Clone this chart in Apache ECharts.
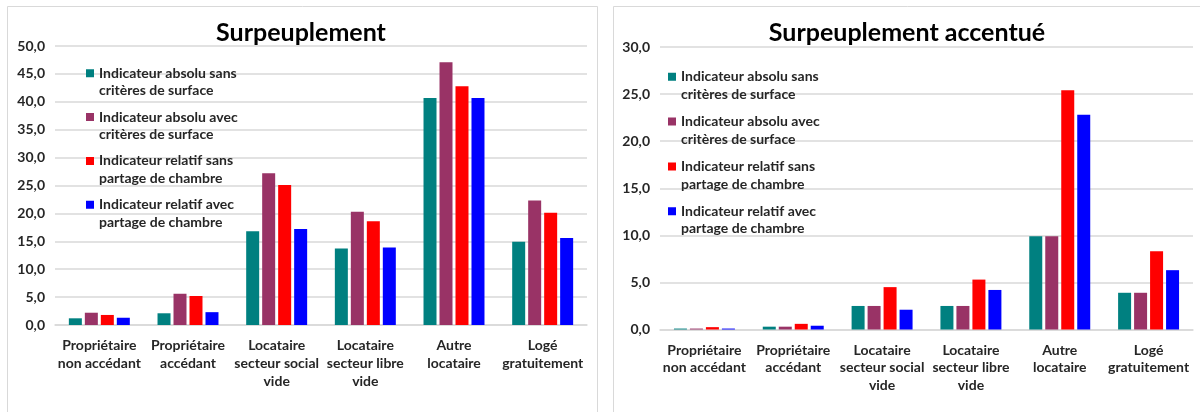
<!DOCTYPE html>
<html>
<head>
<meta charset="utf-8">
<script src="https://cdn.jsdelivr.net/npm/echarts@6/dist/echarts.min.js"></script>
<style>
  html, body { margin: 0; padding: 0; background: #fff; }
  #chart { width: 1200px; height: 412px; }
</style>
</head>
<body>
<div id="chart"></div>
<script>
// Household categories (x axis), shared by both panels
const categories = [
  'Propriétaire\nnon accédant',
  'Propriétaire\naccédant',
  'Locataire\nsecteur social\nvide',
  'Locataire\nsecteur libre\nvide',
  'Autre\nlocataire',
  'Logé\ngratuitement'
];

// Indicator names and their wrapped legend labels
const seriesNames = [
  'Indicateur absolu sans critères de surface',
  'Indicateur absolu avec critères de surface',
  'Indicateur relatif sans partage de chambre',
  'Indicateur relatif avec partage de chambre'
];
const legendLabels = [
  'Indicateur absolu sans\ncritères de surface',
  'Indicateur absolu avec\ncritères de surface',
  'Indicateur relatif sans\npartage de chambre',
  'Indicateur relatif avec\npartage de chambre'
];
const seriesColors = ['#008080', '#993366', '#ff0000', '#0000ff'];

// Surpeuplement (%)
const surpAbsoluSans = [1.2, 2.1, 16.8, 13.7, 40.7, 14.9];
const surpAbsoluAvec = [2.2, 5.6, 27.2, 20.3, 47.1, 22.3];
const surpRelatifSans = [1.8, 5.2, 25.1, 18.6, 42.8, 20.1];
const surpRelatifAvec = [1.3, 2.3, 17.2, 13.9, 40.7, 15.6];

// Surpeuplement accentué (%)
const accAbsoluSans = [0.1, 0.3, 2.5, 2.5, 9.9, 3.9];
const accAbsoluAvec = [0.1, 0.3, 2.5, 2.5, 9.9, 3.9];
const accRelatifSans = [0.25, 0.6, 4.5, 5.3, 25.4, 8.3];
const accRelatifAvec = [0.1, 0.4, 2.1, 4.2, 22.8, 6.3];

// Y axis ranges and tick step
const surpMax = 50, accMax = 30, tickStep = 5;
// Panel titles
const titles = ['Surpeuplement', 'Surpeuplement accentué'];

const FONT = 'Lato, "Open Sans", sans-serif';
const TEXT = '#262626';
const FS = 14;
const GRID_LINE = { color: '#d9d9d9', width: 1.5 };

const fmt = v => v.toFixed(1).replace('.', ',');

// Legend icon: an 8px square on the first text line of a two-line item
const LINE_H = 17.6;
const ICON = 'path://M0,' + (LINE_H / 2 - 4) + 'L8,' + (LINE_H / 2 - 4) + 'L8,' + (LINE_H / 2 + 4) +
  'L0,' + (LINE_H / 2 + 4) + 'Z M0,0L8,0 M0,' + (2 * LINE_H) + 'L8,' + (2 * LINE_H);

function makeXAxis(gridIndex) {
  return {
    type: 'category', gridIndex, data: categories,
    axisTick: { show: false },
    axisLine: { lineStyle: GRID_LINE },
    axisLabel: {
      interval: 0, margin: 12, color: TEXT, fontFamily: FONT,
      fontWeight: 'bold', fontSize: FS, lineHeight: LINE_H
    }
  };
}
function makeYAxis(gridIndex, max) {
  return {
    type: 'value', gridIndex, min: 0, max, interval: tickStep,
    axisLine: { show: false }, axisTick: { show: false },
    splitLine: { lineStyle: GRID_LINE },
    axisLabel: {
      margin: 10, color: TEXT, fontFamily: FONT, fontWeight: 'bold', fontSize: FS,
      formatter: fmt
    }
  };
}
function makeLegend(left, top, gap) {
  return {
    orient: 'vertical', left, top, padding: 0, itemGap: gap,
    itemWidth: 8, itemHeight: 2 * LINE_H, icon: ICON,
    itemStyle: { borderWidth: 0 },
    data: seriesNames,
    formatter: name => legendLabels[seriesNames.indexOf(name)],
    textStyle: { color: TEXT, fontFamily: FONT, fontWeight: 'bold', fontSize: FS, lineHeight: LINE_H }
  };
}
function makeBar(name, i, data, axisIndex) {
  return {
    type: 'bar', name, data, xAxisIndex: axisIndex, yAxisIndex: axisIndex,
    barWidth: 13, barGap: '23%',
    itemStyle: { color: seriesColors[i] }
  };
}

const surpSeries = [surpAbsoluSans, surpAbsoluAvec, surpRelatifSans, surpRelatifAvec];
const accSeries = [accAbsoluSans, accAbsoluAvec, accRelatifSans, accRelatifAvec];

const TITLE_STYLE = { fontFamily: FONT, fontWeight: 'bold', fontSize: 25, color: '#000' };

const option = {
  animation: false,
  backgroundColor: '#fff',
  title: [
    { text: titles[0], left: 301, top: 20, textAlign: 'center', padding: 0, textStyle: TITLE_STYLE },
    { text: titles[1], left: 907, top: 20, textAlign: 'center', padding: 0, textStyle: TITLE_STYLE }
  ],
  legend: [makeLegend(86, 64.5, 8.6), makeLegend(668, 68, 9.6)],
  grid: [
    { left: 55, right: 613, top: 46, bottom: 87 },
    { left: 660, right: 7, top: 47, bottom: 82.5 }
  ],
  xAxis: [makeXAxis(0), makeXAxis(1)],
  yAxis: [makeYAxis(0, surpMax), makeYAxis(1, accMax)],
  series: [
    ...surpSeries.map((d, i) => makeBar(seriesNames[i], i, d, 0)),
    ...accSeries.map((d, i) => makeBar(seriesNames[i], i, d, 1))
  ],
  graphic: [
    { type: 'rect', silent: true, z: -10,
      shape: { x: 7.5, y: 6.5, width: 590, height: 420 },
      style: { fill: null, stroke: '#d9d9d9', lineWidth: 1 } },
    { type: 'rect', silent: true, z: -10,
      shape: { x: 613.5, y: 6.5, width: 600, height: 420 },
      style: { fill: null, stroke: '#d9d9d9', lineWidth: 1 } }
  ]
};

const chart = echarts.init(document.getElementById('chart'), null, { renderer: 'canvas' });
chart.setOption(option);
</script>
</body>
</html>
